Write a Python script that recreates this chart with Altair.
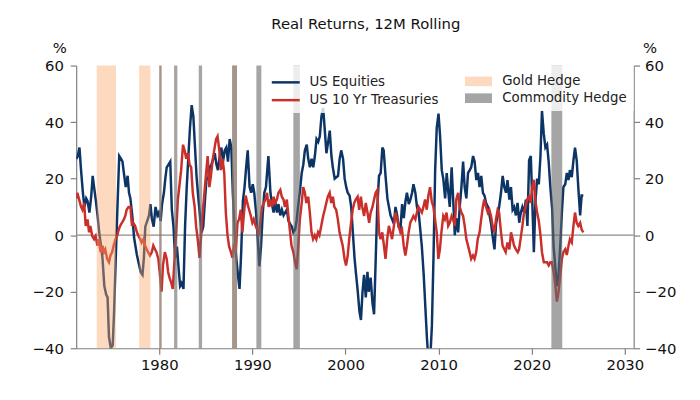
import altair as alt
import pandas as pd

# 12m rolling real returns (decimal years, %)
eq_year = [1971.1, 1971.25, 1971.43, 1971.6, 1971.8, 1971.96, 1972.15, 1972.3, 1972.5, 1972.7,
           1972.85, 1973.0, 1973.2, 1973.4, 1973.55, 1973.75, 1973.9, 1974.1, 1974.3, 1974.45,
           1974.6, 1974.8, 1975.0, 1975.15, 1975.33, 1975.5, 1975.7, 1975.9, 1976.05, 1976.2,
           1976.4, 1976.6, 1976.75, 1976.9, 1977.1, 1977.3, 1977.45, 1977.6, 1977.8, 1978.0,
           1978.2, 1978.35, 1978.5, 1978.7, 1978.9, 1979.05, 1979.2, 1979.4, 1979.6, 1979.8,
           1979.95, 1980.15, 1980.3, 1980.5, 1980.65, 1980.8, 1981.0, 1981.18, 1981.35, 1981.53,
           1981.7, 1981.9, 1982.06, 1982.24, 1982.4, 1982.6, 1982.77, 1982.95, 1983.13, 1983.3,
           1983.48, 1983.66, 1983.84, 1984.0, 1984.2, 1984.37, 1984.55, 1984.72, 1984.9, 1985.08,
           1985.26, 1985.43, 1985.6, 1985.8, 1985.96, 1986.14, 1986.3, 1986.5, 1986.67, 1986.85,
           1987.03, 1987.2, 1987.38, 1987.56, 1987.74, 1987.9, 1988.1, 1988.27, 1988.45, 1988.62,
           1988.8, 1988.98, 1989.16, 1989.33, 1989.5, 1989.7, 1989.87, 1990.04, 1990.2, 1990.4,
           1990.57, 1990.75, 1990.93, 1991.1, 1991.28, 1991.46, 1991.6, 1991.72, 1991.94, 1992.1,
           1992.28, 1992.45, 1992.64, 1992.8, 1993.0, 1993.17, 1993.35, 1993.7, 1993.88, 1994.24,
           1994.4, 1994.6, 1994.76, 1994.94, 1995.12, 1995.3, 1995.47, 1995.64, 1995.84, 1996.0,
           1996.18, 1996.36, 1996.54, 1996.71, 1996.89, 1997.07, 1997.24, 1997.42, 1997.6, 1997.78,
           1997.95, 1998.14, 1998.31, 1998.49, 1998.64, 1998.84, 1999.2, 1999.37, 1999.54, 1999.74,
           1999.91, 2000.08, 2000.24, 2000.44, 2000.61, 2000.79, 2000.97, 2001.14, 2001.32, 2001.5,
           2001.66, 2001.83, 2001.99, 2002.18, 2002.36, 2002.5, 2002.7, 2002.9, 2003.07, 2003.25,
           2003.4, 2003.6, 2003.78, 2003.96, 2004.1, 2004.3, 2004.5, 2004.67, 2004.84, 2005.2,
           2005.37, 2005.55, 2005.7, 2005.9, 2006.08, 2006.26, 2006.44, 2006.6, 2006.8, 2006.97,
           2007.15, 2007.3, 2007.5, 2007.68, 2007.86, 2008.2, 2008.4, 2008.57, 2008.74, 2008.9,
           2009.1, 2009.28, 2009.45, 2009.63, 2009.8, 2009.99, 2010.16, 2010.34, 2010.5, 2010.7,
           2010.87, 2011.05, 2011.2, 2011.4, 2011.56, 2011.74, 2011.9, 2012.1, 2012.27, 2012.45,
           2012.63, 2012.8, 2012.98, 2013.16, 2013.34, 2013.5, 2013.7, 2013.87, 2014.05, 2014.23,
           2014.4, 2014.58, 2014.76, 2014.93, 2015.1, 2015.3, 2015.47, 2015.64, 2015.8, 2016.0,
           2016.17, 2016.35, 2016.5, 2016.7, 2016.88, 2017.06, 2017.24, 2017.4, 2017.6, 2017.77,
           2017.95, 2018.12, 2018.3, 2018.48, 2018.66, 2018.83, 2019.0, 2019.2, 2019.37, 2019.54,
           2019.72, 2019.9, 2020.08, 2020.23, 2020.4, 2020.58, 2020.76, 2020.94, 2021.1, 2021.29,
           2021.47, 2021.65, 2021.82, 2022.0, 2022.2, 2022.35, 2022.53, 2022.7, 2022.88, 2023.06,
           2023.24, 2023.4, 2023.6, 2023.77, 2023.95, 2024.1, 2024.3, 2024.48, 2024.65, 2024.83,
           2025.0, 2025.2, 2025.36, 2025.54]
eq_val = [27, 28, 31, 23, 15, 10, 13, 12, 8, 14,
          21, 17, 12, 6, 1, -4, -8, -18, -21, -22,
          -36, -40, -39, -27, -8, 9, 28, 27, 26, 22,
          17, 21, 15, 13, 7, -1, -4, -7, -10, -13,
          -14, -8, 3, 5, 7, 11, 6, 3, 10, 7,
          8, 5, 11, 15, 20, 24, 25, 26, 9, 3,
          -8, -4, -11, -18, -17, -19, 3, 17, 28, 38,
          46, 42, 31, 21, 13, 7, 1, 3, 12, 20,
          20, 24, 25, 27, 29, 25, 23, 28, 31, 26,
          30, 31, 26, 34, 31, 15, 1, -8, -14, -19,
          -6, 12, 17, 24, 30, 17, 15, 18, 15, 8,
          -1, -11, -4, 7, 15, 17, 23, 28, 15, 11,
          8, 12, 8, 11, 7, 9, 7, 9, 5, 3,
          1, 2, 5.5, 11, 16, 22, 25, 30, 32, 27,
          24, 27, 24, 28, 34, 33, 35, 42, 45, 37,
          29, 33, 37, 28, 24, 20, 21, 27, 30, 27,
          20, 17, 15, 14, 10, 1, -8, -14, -20, -27,
          -30, -20, -14, -22, -13, -20, -15, -24, -28, -8,
          9, 21, 22, 31, 30, 21, 13, 10, 7, 4,
          10, 7, 3, 2, 11, 6, 12, 15, 11, 12.6,
          15, 18, 15, 10, 8, -4, -14, -25, -36, -44,
          -44, -32, -8, 23, 38, 43, 35, 23, 20, 13,
          22, 15, 10, 24, 13, 0, 6, 1, 10, 17,
          26, 17, 13, 22, 23, 24, 28, 26, 19.5, 22,
          17, 21, 15, 14, 11.4, 10, 7, 4, -0.3, -5,
          4, 7, 10, 15, 21, 17, 15, 19.5, 12.6, 17,
          9, 10, 7, 11.4, 4.4, 8, 10, 8, 12.6, 3.3,
          26.5, 28, 10, -6, 12, 20, 18, 28, 44, 36,
          31, 32, 26, 17, 9, -4, -11, -18, -14, -4,
          8, 17, 18, 22, 19.5, 23, 20.5, 26.5, 31, 26.5,
          17, 7, 14, 14]

tr_year = [1971.1, 1971.2, 1971.4, 1971.6, 1971.75, 1971.93, 1972.1, 1972.3, 1972.46, 1972.6,
           1972.8, 1973.0, 1973.17, 1973.35, 1973.5, 1973.7, 1973.9, 1974.05, 1974.2, 1974.4,
           1974.6, 1974.76, 1974.94, 1975.1, 1975.3, 1975.47, 1975.65, 1975.8, 1976.0, 1976.2,
           1976.35, 1976.5, 1976.7, 1976.9, 1977.07, 1977.2, 1977.4, 1977.6, 1977.77, 1977.95,
           1978.1, 1978.3, 1978.48, 1978.65, 1978.8, 1979.0, 1979.2, 1979.36, 1979.54, 1979.7,
           1979.9, 1980.1, 1980.25, 1980.4, 1980.6, 1980.8, 1980.95, 1981.1, 1981.3, 1981.45,
           1981.65, 1981.85, 1982.0, 1982.35, 1982.55, 1982.72, 1982.9, 1983.08, 1983.25, 1983.43,
           1983.6, 1983.8, 1983.96, 1984.15, 1984.32, 1984.5, 1984.67, 1984.85, 1985.03, 1985.2,
           1985.38, 1985.55, 1985.75, 1985.9, 1986.1, 1986.26, 1986.45, 1986.62, 1986.8, 1986.98,
           1987.15, 1987.33, 1987.5, 1987.7, 1987.85, 1988.05, 1988.22, 1988.4, 1988.57, 1988.75,
           1988.93, 1989.1, 1989.28, 1989.45, 1989.65, 1989.82, 1990.0, 1990.15, 1990.35, 1990.52,
           1990.7, 1990.88, 1991.05, 1991.23, 1991.4, 1991.57, 1991.75, 1991.9, 1992.1, 1992.28,
           1992.46, 1992.63, 1992.8, 1993.0, 1993.16, 1993.34, 1993.5, 1993.7, 1993.87, 1994.05,
           1994.2, 1994.4, 1994.58, 1994.76, 1994.93, 1995.1, 1995.3, 1995.46, 1995.64, 1995.8,
           1996.0, 1996.17, 1996.35, 1996.52, 1996.7, 1996.87, 1997.05, 1997.2, 1997.4, 1997.6,
           1997.77, 1997.94, 1998.1, 1998.3, 1998.47, 1998.65, 1998.8, 1999.0, 1999.18, 1999.36,
           1999.53, 1999.7, 1999.9, 2000.06, 2000.24, 2000.4, 2000.6, 2000.77, 2000.94, 2001.1,
           2001.3, 2001.47, 2001.65, 2001.8, 2002.0, 2002.18, 2002.36, 2002.54, 2002.7, 2002.9,
           2003.07, 2003.24, 2003.42, 2003.6, 2003.77, 2003.95, 2004.13, 2004.3, 2004.48, 2004.66,
           2004.84, 2005.0, 2005.2, 2005.37, 2005.54, 2005.72, 2005.9, 2006.07, 2006.25, 2006.43,
           2006.6, 2006.78, 2006.96, 2007.14, 2007.3, 2007.5, 2007.67, 2007.84, 2008.02, 2008.2,
           2008.37, 2008.55, 2008.73, 2008.9, 2009.08, 2009.26, 2009.44, 2009.6, 2009.8, 2009.97,
           2010.14, 2010.3, 2010.5, 2010.67, 2010.85, 2011.03, 2011.2, 2011.4, 2011.56, 2011.74,
           2011.9, 2012.1, 2012.27, 2012.45, 2012.63, 2012.8, 2012.98, 2013.16, 2013.33, 2013.5,
           2013.69, 2013.86, 2014.04, 2014.2, 2014.4, 2014.57, 2014.75, 2014.9, 2015.1, 2015.28,
           2015.45, 2015.63, 2015.8, 2016.0, 2016.16, 2016.34, 2016.5, 2016.7, 2016.87, 2017.05,
           2017.2, 2017.4, 2017.6, 2017.78, 2017.95, 2018.1, 2018.3, 2018.5, 2018.64, 2018.8,
           2019.0, 2019.17, 2019.35, 2019.5, 2019.7, 2019.88, 2020.06, 2020.23, 2020.4, 2020.58,
           2020.76, 2020.94, 2021.1, 2021.3, 2021.47, 2021.65, 2021.82, 2022.0, 2022.17, 2022.35,
           2022.53, 2022.7, 2022.88, 2023.06, 2023.24, 2023.4, 2023.6, 2023.77, 2023.95, 2024.1,
           2024.3, 2024.48, 2024.65, 2024.83, 2025.0, 2025.2, 2025.36, 2025.54]
tr_val = [13, 15, 12.6, 10, 9, 11.4, 3.3, 5.6, 1, 3.3,
          -0.3, -1.4, -0.3, -3.7, -1.4, -6, -3.7, -6, -5, -8.4,
          -9.6, -7.2, -6, -3.7, -1.4, -0.3, 2, 3.3, 4.4, 5.6,
          6.8, 9, 10, 10, 3.3, 4.4, 3.3, 1, -0.3, -1.4,
          -2.6, -1.4, -3.7, -5, -6, -7.2, -6, -3.7, -5, -6,
          -8.4, -15, -20, -10.7, -6, -8.4, -13, -15, -17, -19,
          -8, 3, 12.6, 23, 32, 30, 27, 29, 25, 24,
          15, 10, 3, -2, -8, 0, 8, 15, 22, 28,
          17, 21, 27, 30, 34, 35, 30, 23, 27, 22,
          8, 0, -4, -6, -8, -3, -6, 4.4, 5.6, 9,
          1, 8, 14, 11.4, 9, 7, 4.4, 5.6, 3.3, 2,
          -0.3, 5.6, 10, 11.4, 12.6, 15, 10, 12.6, 10, 13.6,
          11.4, 12.6, 15, 16, 13.6, 12.6, 10, 12.6, 6.8, 1,
          -3.7, -6, -9.6, -12, -3.7, 5.6, 11.4, 17, 15, 11.4,
          13.6, 8, 1, -1.4, 0, -1.4, 1, 0, 3.3, 6.8,
          9, 11.4, 13.6, 15, 11.4, 13.6, 10, 9, 5.6, 1,
          -1.4, -3.7, -8.4, -10.7, -7.2, -1.4, 4.4, 9, 11.4, 12.6,
          13.6, 9, 13.6, 10, 6.8, 11.4, 8, 4.4, 8, 10,
          12.6, 15, 16, 1, -1.4, 1, -3.7, -8.4, -1.4, 3.3,
          1, -1.4, 3.3, 8, 5.6, 3.3, 1, 2, -3.7, -7.2,
          -3.7, 1, 4.4, 5.6, 6.8, 5.6, 8, 10, 9, 8,
          10, 12.6, 9, 14, 17, 12, 10, 6, 1, -8.4,
          -5, 1, 6.8, 5.6, 8, 3.3, 4.4, 6.8, 5.6, 3.3,
          12.6, 15, 10, 8, 6.8, 3.3, -1.4, -3.7, -6, -8.4,
          -7.2, -8.4, -6, -1.4, 1, 5.6, 10, 12.6, 10, 8,
          9, 6.8, 3.3, 1, 5.6, 9, 8, 1, -3.7, -5,
          -6, -2.6, -5, 1, -1.4, -3.7, -5, -6, -5, -1.4,
          3.3, 8, 10, 12.6, 13.6, 11.4, 17, 19.6, 12, 8,
          5, 0, -6, -9.6, -9.6, -9.6, -10.7, -9.6, -9.6, -13,
          -17.5, -23.5, -20, -14.5, -8.4, -6, -5, -7, -3.7, -1.4,
          -2.6, 3.3, 8, 4.4, 3.3, 4.4, 2, 1]

# hedge windows (start, end) in decimal years
gold_start = [1973.28, 1977.84, 1980.0, 1987.82]
gold_end = [1975.35, 1979.04, 1980.25, 1988.35]
comm_start = [1980.0, 1981.59, 1984.24, 1987.82, 1990.43, 1994.4, 2022.11]
comm_end = [1980.25, 1981.94, 1984.6, 1988.35, 1990.96, 1995.1, 2023.28]

series_names = ['US Equities', 'US 10 Yr Treasuries']
hedge_names = ['Gold Hedge', 'Commodity Hedge']
y_ticks = [-40, -20, 0, 20, 40, 60]
x_ticks = [1980, 1990, 2000, 2010, 2020, 2030]

lines_df = pd.concat([
    pd.DataFrame({'year': eq_year, 'value': eq_val, 'series': series_names[0]}),
    pd.DataFrame({'year': tr_year, 'value': tr_val, 'series': series_names[1]}),
])
bands_df = pd.concat([
    pd.DataFrame({'start': gold_start, 'end': gold_end, 'hedge': hedge_names[0]}),
    pd.DataFrame({'start': comm_start, 'end': comm_end, 'hedge': hedge_names[1]}),
])
bands_df['lo'] = -40
bands_df['hi'] = 60
zero_df = pd.DataFrame({'v': [0]})

font = 'DejaVu Sans'
spine = '#7f7f7f'

x_scale = alt.Scale(domain=[1971.08, 2030.95], nice=False, zero=False)
y_scale = alt.Scale(domain=[-40, 60], nice=False)

x_axis = alt.Axis(values=x_ticks, format='d', title=None, grid=False,
                  labelFont=font, labelFontSize=15, labelColor='#111',
                  domainColor=spine, tickColor=spine, domainWidth=1.2, tickWidth=1.2,
                  tickSize=6, labelPadding=4)

def y_axis(side, title_x, pad):
    return alt.Axis(orient=side, values=y_ticks, grid=False, title='%',
                    titleAngle=0, titleX=title_x, titleY=-18, titleAlign='center',
                    titleBaseline='middle', titleFont=font, titleFontSize=15,
                    titleFontWeight='normal', titleColor='#111',
                    labelFont=font, labelFontSize=15, labelColor='#111',
                    domainColor=spine, tickColor=spine, domainWidth=1.2, tickWidth=1.2,
                    tickSize=6, labelPadding=pad)

zero = alt.Chart(zero_df).mark_rule(color='#8c8c8c', strokeWidth=1.2).encode(
    y=alt.Y('v:Q', scale=y_scale, axis=y_axis('right', 16, 5))
)

lines = alt.Chart(lines_df).mark_line(strokeWidth=2.5, clip=True).encode(
    x=alt.X('year:Q', scale=x_scale, axis=x_axis),
    y=alt.Y('value:Q', scale=y_scale, axis=y_axis('left', -17, 7)),
    color=alt.Color('series:N',
                    scale=alt.Scale(domain=series_names, range=['#0c3465', '#c9302c']),
                    sort=series_names,
                    legend=alt.Legend(title=None, orient='none', legendX=195, legendY=0,
                                      symbolType='M-1.45,0H1.45', symbolSize=380,
                                      symbolStrokeWidth=2.5, labelOffset=13,
                                      labelFont=font, labelFontSize=13.5, labelColor='#222',
                                      rowPadding=0, padding=6,
                                      fillColor='rgba(255,255,255,0.8)', zindex=1)),
)

bands = alt.Chart(bands_df).mark_rect().encode(
    x=alt.X('start:Q', scale=x_scale, axis=x_axis),
    x2='end:Q',
    y=alt.Y('lo:Q', scale=y_scale, axis=None),
    y2='hi:Q',
    fill=alt.Fill('hedge:N',
                  scale=alt.Scale(domain=hedge_names,
                                  range=['rgba(250,165,105,0.42)', 'rgba(105,105,105,0.6)']),
                  sort=hedge_names,
                  legend=alt.Legend(title=None, orient='none', legendX=391, legendY=0,
                                    symbolType='M-1.4,-0.5H1.4V0.5H-1.4Z', symbolSize=380,
                                    symbolStrokeWidth=0, labelOffset=14,
                                    labelFont=font, labelFontSize=13.5, labelColor='#222',
                                    rowPadding=0, padding=6,
                                    fillColor='rgba(255,255,255,0.8)', zindex=1)),
)

chart = alt.layer(zero, lines, bands).resolve_axis(y='independent').properties(
    width=564, height=286,
    autosize=alt.AutoSizeParams(type='none'),
    padding={'left': 69, 'top': 56, 'right': 59, 'bottom': 40},
    title=alt.TitleParams('Real Returns, 12M Rolling', font=font, fontSize=15,
                          fontWeight='normal', color='#111', baseline='bottom',
                          offset=13, dx=11, dy=19),
).configure_view(stroke=None)

chart.save('out.html', embed_options={'renderer': 'svg', 'actions': False})
